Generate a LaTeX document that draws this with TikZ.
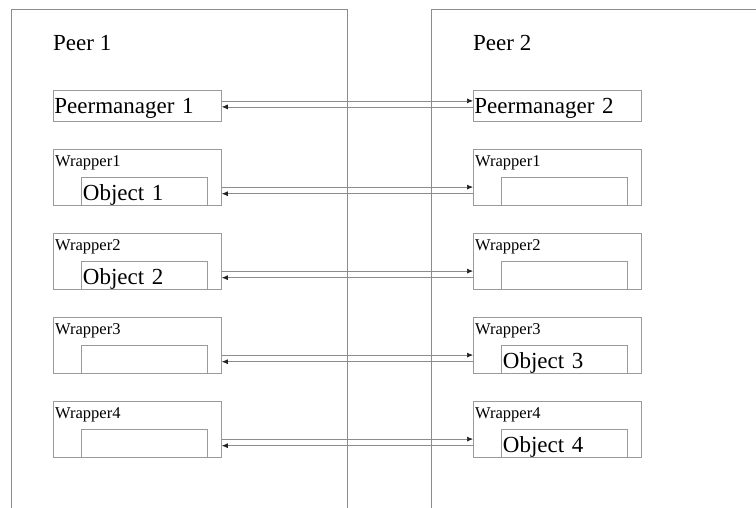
\documentclass[tikz,border=0pt]{standalone}
\usepackage{fontspec}
\setmainfont{Liberation Serif}
\usetikzlibrary{arrows.meta}
\definecolor{boxgray}{HTML}{9A9A9A}
\definecolor{linegray}{HTML}{8C8C8C}
\definecolor{tipgray}{HTML}{222222}
\tikzset{
  panel/.style={line width=0.8pt, draw=linegray},
  bigtext/.style={font=\fontsize{23}{25}\selectfont, text=black, inner sep=0pt},
  smalltext/.style={font=\fontsize{16.5}{18}\selectfont, text=black, inner sep=0pt},
  pmbox/.style={draw=boxgray, line width=0.8pt, anchor=north west, bigtext,
    minimum width=168pt, minimum height=31pt, text width=166pt, align=left,
    inner xsep=1pt, inner ysep=0pt, text height=22.5pt, text depth=8pt},
  wrapbox/.style={draw=boxgray, line width=0.8pt, anchor=north west,
    minimum width=168pt, minimum height=56pt, inner sep=0pt},
  objbox/.style={draw=boxgray, line width=0.8pt, anchor=south west, bigtext,
    minimum width=126pt, minimum height=28pt, text width=123pt, align=left,
    inner xsep=1.5pt, inner ysep=0pt, text height=22.5pt, text depth=5pt},
  link/.style={line width=0.7pt, draw=linegray},
  tip/.style={-{Latex[length=6pt, width=5pt, color=tipgray]}},
}
\begin{document}
\begin{tikzpicture}[x=1pt, y=-1pt]
  \useasboundingbox (0,0) rectangle (756,508);
  % Peer panels (open at the bottom)
  \draw[panel] (11,508) -- (11,9) -- (347,9) -- (347,508);
  \draw[panel] (431,508) -- (431,9) -- (756,9);
  \node[bigtext, anchor=base west] (peer1) at (53,51) {Peer 1};
  \node[bigtext, anchor=base west] (peer2) at (473,51) {Peer 2};
  % Peermanager
  \node[pmbox] (pm1) at (53,90) {Peermanager 1};
  \node[pmbox] (pm2) at (473,90) {Peermanager 2};
  \draw[link, tip] ([yshift=5pt]pm1.east) -- ([yshift=5pt]pm2.west);
  \draw[link, tip] ([yshift=-1pt]pm2.west) -- ([yshift=-1pt]pm1.east);
  % Wrapper mit Objekt
  \foreach \i/\y/\lobj/\robj in {1/149/Object 1/, 2/233/Object 2/, 3/317//Object 3, 4/401//Object 4}{
    \node[wrapbox] (wl\i) at (53,\y) {};
    \node[wrapbox] (wr\i) at (473,\y) {};
    \node[smalltext, anchor=base west] (wll\i) at ([xshift=2pt, yshift=-17.5pt]wl\i.north west) {Wrapper\i};
    \node[smalltext, anchor=base west] (wrl\i) at ([xshift=2pt, yshift=-17.5pt]wr\i.north west) {Wrapper\i};
    \node[objbox] (ol\i) at ([xshift=28pt]wl\i.south west) {\lobj};
    \node[objbox] (or\i) at ([xshift=28pt]wr\i.south west) {\robj};
    \draw[link, tip] ([yshift=-9.7pt]wl\i.east) -- ([yshift=-9.7pt]wr\i.west);
    \draw[link, tip] ([yshift=-16.3pt]wr\i.west) -- ([yshift=-16.3pt]wl\i.east);
  }
\end{tikzpicture}
\end{document}
